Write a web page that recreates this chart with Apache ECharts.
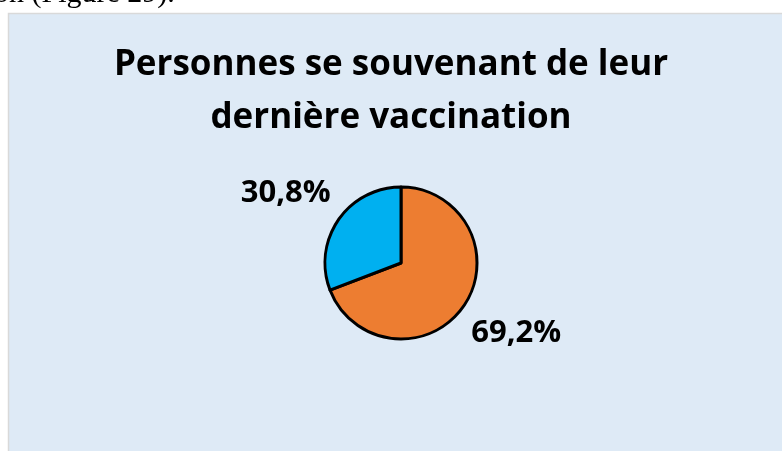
<!DOCTYPE html>
<html>
<head>
<meta charset="utf-8">
<script src="https://cdn.jsdelivr.net/npm/echarts@6/dist/echarts.min.js"></script>
<style>
  html, body { margin: 0; padding: 0; background: #fff; }
  #chart { width: 782px; height: 451px; }
</style>
</head>
<body>
<div id="chart"></div>
<script>
// données
const categories = ['Se souviennent', 'Ne se souviennent pas'];
const values = [69.2, 30.8];
const colors = ['#ED7D31', '#00B0F0'];
const titleLines = ['Personnes se souvenant de leur', 'dernière vaccination'];

const chart = echarts.init(document.getElementById('chart'));

const option = {
    backgroundColor: '#fff',
    animation: false,
    graphic: [{
        type: 'rect',
        shape: { x: 8.5, y: 13.5, width: 800, height: 500 },
        style: { fill: '#DEEAF6', stroke: '#D9D9D9', lineWidth: 1.5 },
        z: -10
    }, {
        // bout de texte du document au-dessus du graphique
        type: 'text',
        left: -6,
        top: -21,
        style: {
            text: 'on (Figure 29).',
            font: '30px "Liberation Serif"',
            fill: '#000'
        }
    }],
    title: {
        text: titleLines.join('\n'),
        left: 'center',
        top: 34,
        textStyle: {
            fontFamily: 'Open Sans',
            fontWeight: 'bold',
            fontSize: 35,
            lineHeight: 53,
            color: '#000'
        }
    },
    series: [{
        type: 'pie',
        center: [401, 263],
        radius: 76,
        startAngle: 90,
        clockwise: true,
        avoidLabelOverlap: false,
        itemStyle: {
            borderColor: '#000',
            borderWidth: 3
        },
        label: {
            show: true,
            position: 'outside',
            distanceToLabelLine: -31,
            formatter: p => p.value.toFixed(1).replace('.', ',') + '%',
            fontFamily: 'Open Sans',
            fontWeight: 'bold',
            fontSize: 31,
            color: '#000'
        },
        labelLine: { show: false, length: 47, length2: 0 },
        data: categories.map((c, i) => ({
            name: c,
            value: values[i],
            itemStyle: { color: colors[i] }
        }))
    }]
};

chart.setOption(option);
</script>
</body>
</html>
